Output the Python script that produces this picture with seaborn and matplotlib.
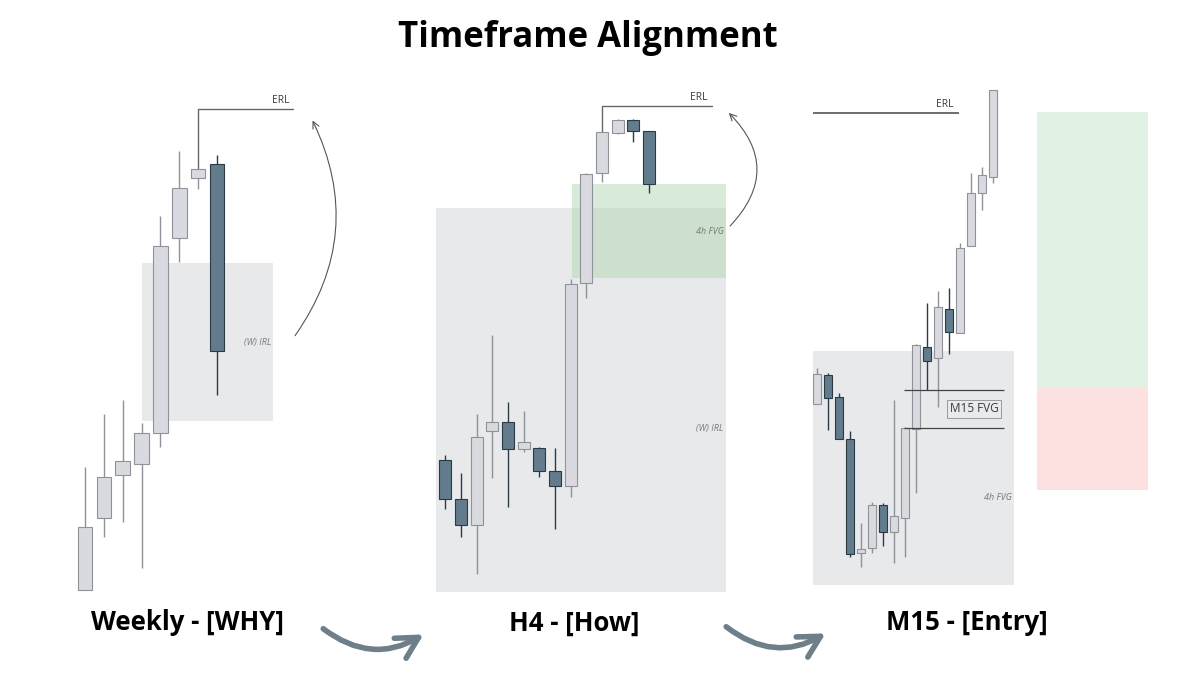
import matplotlib
matplotlib.use("Agg")
import matplotlib.pyplot as plt
from matplotlib.patches import FancyArrowPatch, Rectangle
import numpy as np
import seaborn as sns

W, H = 1200, 675

# candles (open / high / low / close), price units
weekly_open = [85, 157, 200, 211, 242, 437, 497, 511]
weekly_high = [208, 261, 275, 252, 459, 524, 506, 520]
weekly_low = [85, 138, 153, 107, 228, 413, 486, 280]
weekly_close = [148, 198, 214, 242, 429, 487, 506, 324]

h4_open = [215, 176, 150, 244, 253, 226, 227, 204, 189, 392, 502, 542, 555, 544]
h4_high = [220, 202, 261, 340, 273, 264, 228, 227, 396, 502, 543, 556, 556, 544]
h4_low = [166, 138, 101, 197, 168, 223, 198, 146, 178, 377, 493, 541, 533, 482]
h4_close = [176, 150, 238, 253, 226, 233, 204, 189, 391, 501, 543, 555, 544, 491]

m15_open = [271, 300, 278, 236, 122, 127, 170, 143, 157, 246, 328, 317, 366, 342, 429, 482, 498]
m15_high = [307, 302, 282, 244, 152, 173, 172, 275, 248, 331, 372, 384, 387, 432, 502, 508, 585]
m15_low = [271, 245, 236, 118, 108, 122, 129, 112, 118, 182, 285, 268, 321, 342, 429, 465, 492]
m15_close = [301, 277, 236, 121, 126, 170, 143, 159, 247, 330, 314, 368, 343, 427, 482, 500, 585]

# levels (price) and zones (price low/high)
weekly_irl = (254, 412)
weekly_erl = 566
h4_irl = (83, 467)
h4_fvg = (397, 491)
h4_erl = 569
m15_zone = (90, 324)
m15_fvg = (247, 285)
m15_erl = 562
m15_target = (287, 563)
m15_stop = (185, 287)

panel_titles = ["Weekly - [WHY]", "H4 - [How]", "M15 - [Entry]"]

LIGHT, LIGHT_EDGE = "#d9dadf", "#8f9298"
DARK, DARK_EDGE = "#627c8e", "#2c3a44"
ZONE = "#e8e9eb"
TXT = "#3a3a3a"
ARROW = "#6e7f89"

sns.set_theme(style="white")
plt.rcParams["font.family"] = ["Open Sans", "DejaVu Sans"]


def panel_axes(fig, first_px, step_px):
    ax = fig.add_axes([0, 0, 1, 1])
    ax.set_xlim(-first_px / step_px, (W - first_px) / step_px)
    ax.set_ylim(0, H)
    ax.set_facecolor("none")
    ax.axis("off")
    return ax


def draw_candles(ax, o, h, l, c, width):
    o, h, l, c = (np.asarray(v, dtype=float) for v in (o, h, l, c))
    x = np.arange(len(o))
    up = c >= o
    for mask, face, edge in ((up, LIGHT, LIGHT_EDGE), (~up, DARK, DARK_EDGE)):
        ax.vlines(x[mask], l[mask], h[mask], color=edge, lw=1, zorder=3)
        ax.bar(x[mask], np.abs(c - o)[mask], bottom=np.minimum(o, c)[mask],
               width=width, color=face, edgecolor=edge, lw=0.8, zorder=4)


def zone(ax, x0, x1, lo_hi, color, alpha=1.0, z=1):
    ax.add_patch(Rectangle((x0, lo_hi[0]), x1 - x0, lo_hi[1] - lo_hi[0],
                           facecolor=color, edgecolor="none", alpha=alpha, zorder=z))


def curved_arrow(ax, start, end, rad):
    ax.add_patch(FancyArrowPatch(start, end, connectionstyle=f"arc3,rad={rad}",
                                 arrowstyle="->", mutation_scale=12,
                                 color="#555555", lw=0.8, zorder=5))


fig = plt.figure(figsize=(W / 100, H / 100), dpi=100)

# ---- Weekly
ax = panel_axes(fig, 85, 18.86)
zone(ax, 3.04, 9.98, weekly_irl, ZONE)
draw_candles(ax, weekly_open, weekly_high, weekly_low, weekly_close, 0.77)
ax.plot([6, 6, 11.03], [weekly_close[6], weekly_erl, weekly_erl], color="#666666", lw=1, zorder=3)
ax.text(10.4, weekly_erl + 3, "ERL", ha="center", va="bottom", fontsize=7.5, color=TXT)
ax.text(9.9, 332, "(W) IRL", ha="right", va="center", fontsize=6.5, style="italic", color="#777777")
curved_arrow(ax, (11.05, 337), (12.0, 557), 0.3)

# ---- H4
ax = panel_axes(fig, 445.3, 15.67)
zone(ax, -0.59, 17.91, h4_irl, ZONE)
zone(ax, 8.07, 17.91, h4_fvg, "#b3d8b3", alpha=0.5, z=2)
draw_candles(ax, h4_open, h4_high, h4_low, h4_close, 0.77)
ax.plot([10, 10, 17.03], [h4_close[10], h4_erl, h4_erl], color="#666666", lw=1, zorder=3)
ax.text(16.2, h4_erl + 3, "ERL", ha="center", va="bottom", fontsize=7.5, color=TXT)
ax.text(17.76, 443, "4h FVG", ha="right", va="center", fontsize=6.5, style="italic", color="#777777")
ax.text(17.76, 247, "(W) IRL", ha="right", va="center", fontsize=6.5, style="italic", color="#777777")
curved_arrow(ax, (18.05, 447), (17.97, 564), 0.5)

# ---- M15
ax = panel_axes(fig, 817, 11.0)
zone(ax, -0.34, 17.9, m15_zone, ZONE)
zone(ax, 19.97, 30.06, m15_target, "#e1f2e4")
zone(ax, 19.97, 30.06, m15_stop, "#fde1e1")
draw_candles(ax, m15_open, m15_high, m15_low, m15_close, 0.68)
ax.hlines(m15_erl, -0.34, 12.94, color="#555555", lw=1.2, zorder=3)
ax.text(11.64, m15_erl + 3, "ERL", ha="center", va="bottom", fontsize=7.5, color=TXT)
ax.hlines(m15_fvg, 7.94, 17.0, color="#444444", lw=0.9, zorder=5)
ax.text(14.27, sum(m15_fvg) / 2, "M15 FVG", ha="center", va="center", fontsize=8.5, color=TXT, zorder=6,
        bbox=dict(boxstyle="square,pad=0.25", facecolor="#e9eaec", edgecolor="#9a9a9a", lw=0.7))
ax.text(17.73, 177, "4h FVG", ha="right", va="center", fontsize=6.5, style="italic", color="#777777")

# ---- titles and flow arrows
fig.text(587.5 / W, 1 - 38 / H, "Timeframe Alignment", ha="center", va="center",
         fontsize=25, fontweight="bold", color="black")
for cx, label in zip([187, 574, 967], panel_titles):
    fig.text(cx / W, 1 - 623 / H, label, ha="center", va="center",
             fontsize=18.5, fontweight="bold", color="black")

for (x0, y0), (x1, y1) in [((321, 627), (426, 633)), ((724, 625), (828, 632))]:
    fig.add_artist(FancyArrowPatch((x0 / W, 1 - y0 / H), (x1 / W, 1 - y1 / H),
                                   transform=fig.transFigure, connectionstyle="arc3,rad=0.35",
                                   arrowstyle="->,head_length=0.7,head_width=0.38",
                                   mutation_scale=22, color=ARROW, lw=4, capstyle="round"))

fig.savefig("out.png", dpi=100, facecolor="white")
plt.close(fig)
